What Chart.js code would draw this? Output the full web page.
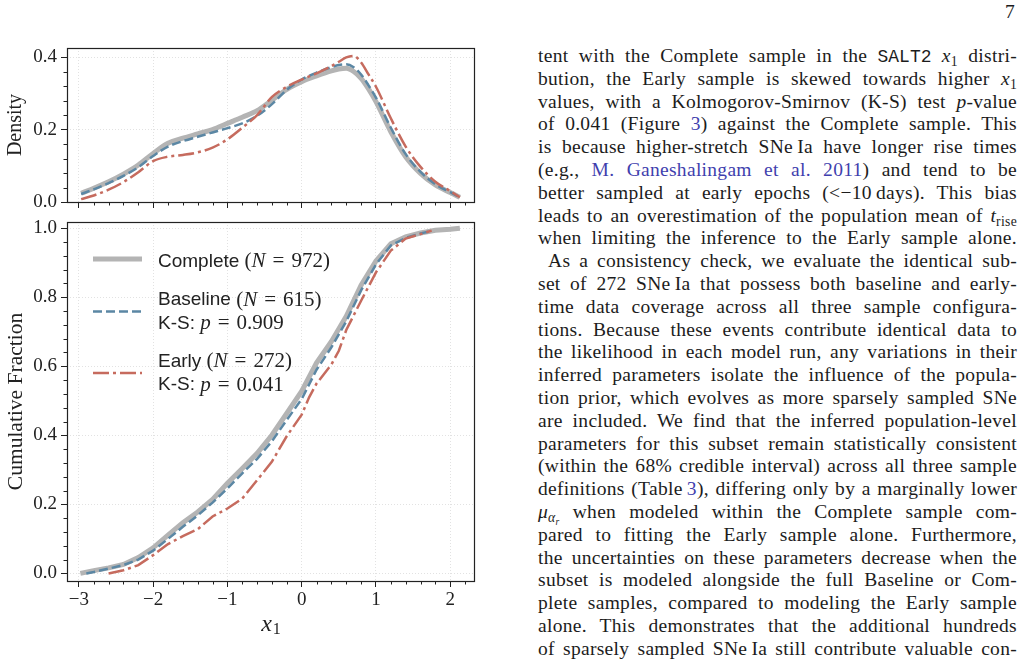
<!DOCTYPE html>
<html>
<head>
<meta charset="utf-8">
<script src="https://cdn.jsdelivr.net/npm/chart.js@4.4.1/dist/chart.umd.min.js"></script>
<style>
  body { margin: 0; background: #fff; width: 1028px; height: 663px; overflow: hidden; position: relative;
         font-family: "Liberation Serif", "DejaVu Serif", serif; color: #1c1c1c; }
  #c1 { position: absolute; left: 0; top: 0; }
  #c2 { position: absolute; left: 0; top: 210px; }
  .pageno { position: absolute; left: 1005px; top: 1px; font-size: 19.5px; }
  .col { position: absolute; left: 538px; top: 45px; width: 479px; font-size: 19.5px; line-height: 22.8px; letter-spacing: 0.3px; }
  .col div { height: 22.8px; text-align: justify; text-align-last: justify; }
  .col .ind { padding-left: 10px; }
  .col sub { font-size: 0.7em; line-height: 0; vertical-align: -0.3em; }
  .col a { color: #3f3fae; text-decoration: none; }
  .tt { font-family: "Liberation Mono", monospace; font-size: 0.92em; letter-spacing: 0; }
</style>
</head>
<body>
<canvas id="c1" width="500" height="215"></canvas>
<canvas id="c2" width="500" height="453"></canvas>
<div class="pageno">7</div>
<div class="col">
  <div>tent with the Complete sample in the <span class="tt">SALT2</span> <i>x</i><sub>1</sub> distri-</div>
  <div>bution, the Early sample is skewed towards higher <i>x</i><sub>1</sub></div>
  <div>values, with a Kolmogorov-Smirnov (K-S) test <i>p</i>-value</div>
  <div>of 0.041 (Figure <a>3</a>) against the Complete sample. This</div>
  <div>is because higher-stretch SNe&thinsp;Ia have longer rise times</div>
  <div>(e.g., <a>M. Ganeshalingam et al. 2011</a>) and tend to be</div>
  <div>better sampled at early epochs (&lt;&minus;10&thinsp;days). This bias</div>
  <div>leads to an overestimation of the population mean of <i>t</i><sub>rise</sub></div>
  <div>when limiting the inference to the Early sample alone.</div>
  <div class="ind">As a consistency check, we evaluate the identical sub-</div>
  <div>set of 272 SNe&thinsp;Ia that possess both baseline and early-</div>
  <div>time data coverage across all three sample configura-</div>
  <div>tions. Because these events contribute identical data to</div>
  <div>the likelihood in each model run, any variations in their</div>
  <div>inferred parameters isolate the influence of the popula-</div>
  <div>tion prior, which evolves as more sparsely sampled SNe</div>
  <div>are included. We find that the inferred population-level</div>
  <div>parameters for this subset remain statistically consistent</div>
  <div>(within the 68% credible interval) across all three sample</div>
  <div>definitions (Table&thinsp;<a>3</a>), differing only by a marginally lower</div>
  <div><i>&mu;</i><sub><i>&alpha;<sub>r</sub></i></sub> when modeled within the Complete sample com-</div>
  <div>pared to fitting the Early sample alone. Furthermore,</div>
  <div>the uncertainties on these parameters decrease when the</div>
  <div>subset is modeled alongside the full Baseline or Com-</div>
  <div>plete samples, compared to modeling the Early sample</div>
  <div>alone. This demonstrates that the additional hundreds</div>
  <div>of sparsely sampled SNe&thinsp;Ia still contribute valuable con-</div>
</div>
<script>
// ---- data ----
// density (KDE) of SALT2 x1, top panel
const kdeX = [-2.97, -2.8, -2.6, -2.4, -2.2, -2.0, -1.8, -1.6, -1.4, -1.2, -1.0, -0.8, -0.6, -0.4, -0.2,
              0.0, 0.2, 0.4, 0.5, 0.6, 0.7, 0.8, 0.9, 1.0, 1.2, 1.4, 1.6, 1.8, 2.0, 2.13];
const kdeComplete = [0.024, 0.038, 0.056, 0.077, 0.102, 0.134, 0.162, 0.176, 0.188, 0.200, 0.217, 0.234, 0.252, 0.281, 0.311,
                     0.332, 0.348, 0.362, 0.367, 0.369, 0.360, 0.341, 0.312, 0.277, 0.194, 0.125, 0.079, 0.047, 0.026, 0.013];
const kdeBaseline = [0.022, 0.035, 0.052, 0.072, 0.096, 0.127, 0.153, 0.168, 0.180, 0.192, 0.204, 0.217, 0.238, 0.270, 0.310,
                     0.338, 0.357, 0.372, 0.378, 0.380, 0.372, 0.352, 0.322, 0.288, 0.205, 0.132, 0.083, 0.049, 0.027, 0.013];
const kdeEarly = [0.008, 0.018, 0.034, 0.055, 0.082, 0.113, 0.125, 0.130, 0.137, 0.150, 0.173, 0.205, 0.240, 0.290, 0.318,
                  0.338, 0.355, 0.375, 0.387, 0.399, 0.403, 0.385, 0.352, 0.318, 0.231, 0.153, 0.097, 0.056, 0.030, 0.013];

// empirical cumulative fractions, bottom panel
const cdfCompleteX = [-2.98, -2.8, -2.6, -2.4, -2.2, -2.0, -1.8, -1.6, -1.4, -1.2, -1.0, -0.8, -0.6, -0.4, -0.2,
                      0.0, 0.2, 0.4, 0.6, 0.8, 1.0, 1.2, 1.4, 1.6, 1.8, 2.0, 2.13];
const cdfComplete = [0.0, 0.008, 0.016, 0.026, 0.046, 0.074, 0.111, 0.147, 0.178, 0.214, 0.261, 0.304, 0.348, 0.401, 0.464,
                     0.528, 0.610, 0.672, 0.745, 0.835, 0.905, 0.955, 0.975, 0.986, 0.994, 0.997, 1.0];
const cdfBaselineX = [-2.9, -2.8, -2.6, -2.4, -2.2, -2.0, -1.8, -1.6, -1.4, -1.2, -1.0, -0.8, -0.6, -0.4, -0.2,
                      0.0, 0.2, 0.4, 0.6, 0.8, 1.0, 1.2, 1.4, 1.6, 1.75];
const cdfBaseline = [0.0, 0.004, 0.014, 0.024, 0.040, 0.066, 0.100, 0.135, 0.168, 0.205, 0.246, 0.290, 0.332, 0.383, 0.445,
                     0.505, 0.590, 0.655, 0.730, 0.820, 0.895, 0.950, 0.972, 0.985, 0.992];
const cdfEarlyX = [-2.6, -2.4, -2.2, -2.0, -1.8, -1.6, -1.4, -1.2, -1.0, -0.8, -0.6, -0.4, -0.2,
                   0.0, 0.1, 0.2, 0.4, 0.5, 0.6, 0.8, 1.0, 1.2, 1.4, 1.6, 1.75];
const cdfEarly = [0.0, 0.009, 0.024, 0.053, 0.085, 0.108, 0.128, 0.165, 0.188, 0.217, 0.270, 0.324, 0.398,
                  0.460, 0.510, 0.550, 0.605, 0.645, 0.705, 0.790, 0.872, 0.935, 0.970, 0.983, 0.993];

const xTicks = [-3, -2, -1, 0, 1, 2];
const densityTicks = [0, 0.2, 0.4];
const cdfTicks = [0, 0.2, 0.4, 0.6, 0.8, 1.0];

const legendRows = [
  { key: 'complete', name: 'Complete', n: '972', ks: null },
  { key: 'baseline', name: 'Baseline', n: '615', ks: '0.909' },
  { key: 'early', name: 'Early', n: '272', ks: '0.041' },
];

// ---- styling ----
const serif = '"Liberation Serif", "DejaVu Serif", serif';
const sans = '"Liberation Sans", Arial, sans-serif';
const ink = '#222';

const styles = {
  complete: { borderColor: '#b4b4b4', borderWidth: 5, borderDash: [], order: 3 },
  baseline: { borderColor: '#5b87a4', borderWidth: 2.5, borderDash: [9, 4], order: 2 },
  early:    { borderColor: '#c66b5e', borderWidth: 2.5, borderDash: [16, 4, 3, 4], order: 1 },
};

const pts = (xs, ys) => xs.map((x, i) => ({ x, y: ys[i] }));

// tick helpers (axis decoration only)
const steps = (a, b, step) => { const out = []; for (let v = a; v <= b + 1e-9; v += step) out.push(+v.toFixed(3)); return out; };
const notIn = majors => v => !majors.some(m => Math.abs(m - v) < 1e-6);
const xMinor = steps(-3, 2.2, 0.2).filter(notIn(xTicks));
const densMinor = steps(0, 0.4, 0.04).filter(notIn(densityTicks));
const cdfMinor = steps(0, 1.0, 0.04).filter(notIn(cdfTicks));

// force an axis box to a fixed size so both panels line up
function fix(prop, size) {
  return s => {
    s[prop] = size;
    s.paddingTop = s.paddingBottom = s.paddingLeft = s.paddingRight = 0;
  };
}

const gridOpts = { color: '#dadada', lineWidth: 0.8, tickColor: ink, tickWidth: 1, tickLength: 6, tickBorderDash: [] };
const borderOpts = { display: false, dash: [1, 2] };

function xScale(showLabels, height) {
  return {
    type: 'linear', min: -3.16, max: 2.32,
    afterBuildTicks: s => { s.ticks = xTicks.map(v => ({ value: v })); },
    afterFit: fix('height', height),
    ticks: { display: showLabels, padding: 2, color: ink, font: { family: serif, size: 19 },
             callback: v => String(v).replace('-', '\u2212') },
    grid: gridOpts, border: borderOpts,
  };
}

function yScale(min, max, ticks, title, titleSize) {
  return {
    type: 'linear', min, max,
    afterBuildTicks: s => { s.ticks = ticks.map(v => ({ value: v })); },
    afterFit: fix('width', 67),
    ticks: { padding: 4, color: ink, font: { family: serif, size: 19 }, callback: v => v.toFixed(1) },
    title: { display: true, text: title, color: ink, font: { family: serif, size: titleSize, lineHeight: 1.2 },
             padding: { top: 16 - titleSize * 0.6, bottom: 0 } },
    grid: gridOpts, border: borderOpts,
  };
}

// frame + minor ticks, like matplotlib spines
const frame = {
  id: 'frame',
  afterDraw(chart, args, opts) {
    const { ctx, chartArea: a, scales: { x, y } } = chart;
    ctx.save();
    ctx.strokeStyle = ink;
    ctx.lineWidth = 1.2;
    ctx.setLineDash([]);
    ctx.strokeRect(Math.round(a.left) + 0.5, Math.round(a.top) + 0.5,
                   Math.round(a.right - a.left), Math.round(a.bottom - a.top));
    ctx.lineWidth = 1;
    ctx.beginPath();
    for (const v of opts.xMinor) {
      const px = Math.round(x.getPixelForValue(v)) + 0.5;
      ctx.moveTo(px, a.bottom); ctx.lineTo(px, a.bottom + 3.5);
    }
    for (const v of opts.yMinor) {
      const py = Math.round(y.getPixelForValue(v)) + 0.5;
      ctx.moveTo(a.left, py); ctx.lineTo(a.left - 3.5, py);
    }
    ctx.stroke();
    ctx.restore();
  }
};

function runs(ctx, parts, x, y) {
  for (const [t, f] of parts) { ctx.font = f; ctx.fillText(t, x, y); x += ctx.measureText(t).width; }
}

// legend with mixed sans / math text, and the x1 axis label
const legendAndLabel = {
  id: 'legendAndLabel',
  afterDraw(chart) {
    const { ctx, chartArea: a } = chart;
    const sF = `19px ${sans}`, rF = `21px ${serif}`, iF = `italic 21px ${serif}`;
    const eq = '\u2004=\u2004';
    const rowsY = [[37, 39.5], [89.5, 78, 101.5], [151, 139.5, 163]];
    ctx.save();
    ctx.fillStyle = ink;
    ctx.textBaseline = 'middle';
    legendRows.forEach((r, i) => {
      const st = styles[r.key];
      const ys = rowsY[i];
      ctx.strokeStyle = st.borderColor;
      ctx.lineWidth = st.borderWidth;
      ctx.setLineDash(st.borderDash);
      ctx.lineCap = 'butt';
      ctx.beginPath();
      ctx.moveTo(a.left + 26, a.top + ys[0]);
      ctx.lineTo(a.left + 75, a.top + ys[0]);
      ctx.stroke();
      ctx.setLineDash([]);
      const tx = a.left + 91;
      runs(ctx, [[r.name + ' ', sF], ['(', rF], ['N', iF], [eq, rF], [r.n + ')', rF]], tx, a.top + ys[1]);
      if (r.ks) runs(ctx, [['K-S: ', sF], ['p', iF], [eq, rF], [r.ks, rF]], tx, a.top + ys[2]);
    });
    // x1 label
    ctx.font = `italic 24px ${serif}`;
    const w1 = ctx.measureText('x').width;
    ctx.font = `16px ${serif}`;
    const w2 = ctx.measureText('1').width;
    const cx = (a.left + a.right) / 2 - (w1 + w2) / 2;
    ctx.font = `italic 24px ${serif}`;
    ctx.fillText('x', cx, 415);
    ctx.font = `16px ${serif}`;
    ctx.fillText('1', cx + w1 + 1, 420);
    ctx.restore();
  }
};

const common = {
  responsive: false,
  animation: false,
  elements: { point: { radius: 0 } },
  events: [],
};

new Chart(document.getElementById('c1'), {
  type: 'line',
  data: {
    datasets: [
      { label: 'Complete', data: pts(kdeX, kdeComplete), ...styles.complete, cubicInterpolationMode: 'monotone' },
      { label: 'Baseline', data: pts(kdeX, kdeBaseline), ...styles.baseline, cubicInterpolationMode: 'monotone' },
      { label: 'Early', data: pts(kdeX, kdeEarly), ...styles.early, cubicInterpolationMode: 'monotone' },
    ]
  },
  options: {
    ...common,
    layout: { padding: { top: 48, right: 26, left: 0, bottom: 0 } },
    plugins: { legend: { display: false }, tooltip: { enabled: false },
               frame: { xMinor, yMinor: densMinor } },
    scales: { x: xScale(false, 13), y: yScale(0, 0.425, densityTicks, 'Density', 20) },
  },
  plugins: [frame],
});

new Chart(document.getElementById('c2'), {
  type: 'line',
  data: {
    datasets: [
      { label: 'Complete', data: pts(cdfCompleteX, cdfComplete), ...styles.complete, tension: 0 },
      { label: 'Baseline', data: pts(cdfBaselineX, cdfBaseline), ...styles.baseline, tension: 0 },
      { label: 'Early', data: pts(cdfEarlyX, cdfEarly), ...styles.early, tension: 0 },
    ]
  },
  options: {
    ...common,
    layout: { padding: { top: 12, right: 26, left: 0, bottom: 0 } },
    plugins: { legend: { display: false }, tooltip: { enabled: false },
               frame: { xMinor, yMinor: cdfMinor } },
    scales: { x: xScale(true, 82), y: yScale(-0.022, 1.018, cdfTicks, 'Cumulative Fraction', 21.5) },
  },
  plugins: [frame, legendAndLabel],
});
</script>
</body>
</html>
